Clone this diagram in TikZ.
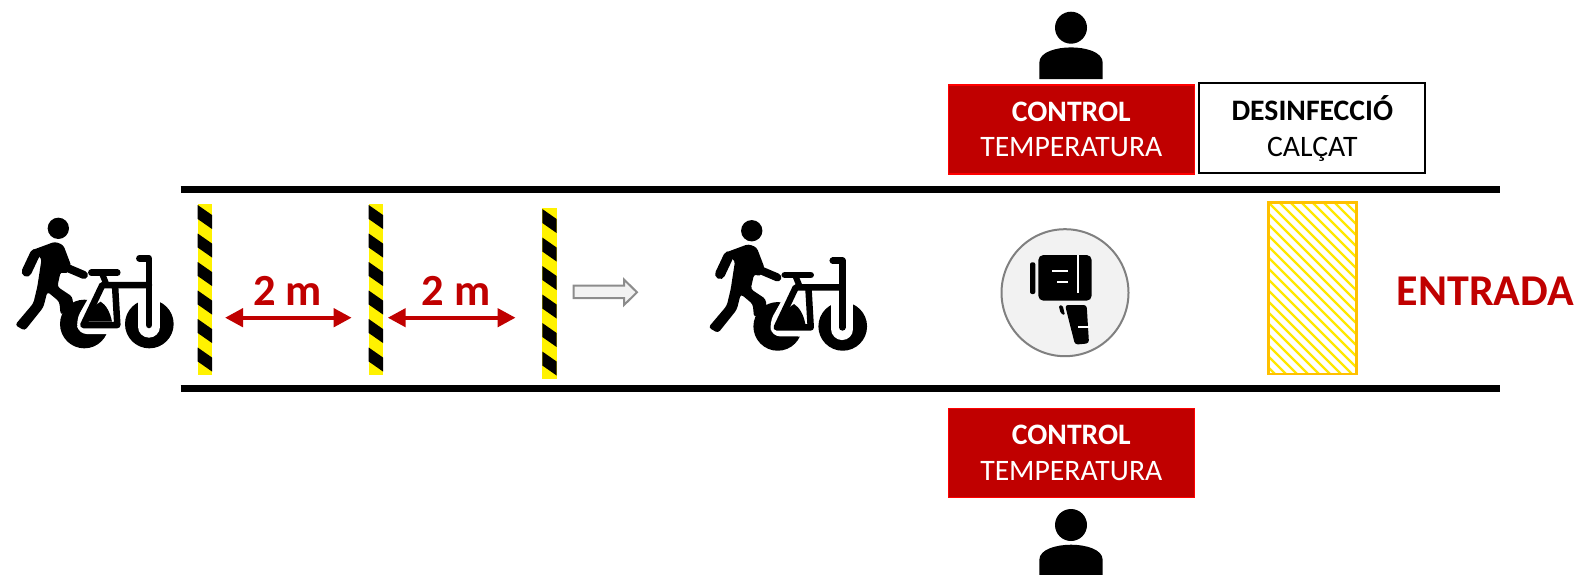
\documentclass[tikz,border=0pt]{standalone}
\usepackage{fontspec}
\usetikzlibrary{arrows.meta}
\setmainfont{Carlito}
\definecolor{darkred}{HTML}{C00000}
\definecolor{hatchy}{HTML}{FFE800}
\definecolor{hatcho}{HTML}{FFC000}
\tikzset{
  box/.style={minimum width=246pt,minimum height=89pt,inner sep=0pt,align=center,font=\fontsize{29.7}{35.7}\selectfont},
  redbox/.style={box,draw=red,line width=1.5pt,fill=darkred,text=white},
  whitebox/.style={box,draw=black,line width=2pt,fill=white,text=black,minimum width=226pt,minimum height=90pt},
  road/.style={line width=7pt,black},
  dist/.style={line width=4.3pt,darkred,{Triangle[length=18pt,width=18pt]}-{Triangle[length=18pt,width=18pt]}},
  dlabel/.style={text=darkred,font=\fontsize{44.5}{48}\bfseries\selectfont,anchor=base,inner sep=0pt},
  person/.pic={
    \fill (0,-20) circle (16);
    \fill (-31.7,31.3) -- (-31.7,15) .. controls (-31.7,4) and (-14,-0.3) .. (0,-0.3) .. controls (14,-0.3) and (31.7,4) .. (31.7,15) -- (31.7,31.3) -- cycle;
  },
  walker/.pic={
    \begin{scope}[scale=1/3]
      \fill (253,402) circle (73);
      \fill (448,402) circle (73);
      \fill[white,rounded corners=8pt] (300,262) -- (228,390) -- (236,432) -- (330,432) -- (368,440) -- (368,262) -- cycle;
      \draw[white,line width=22pt,line cap=round] (447,320) -- (447,410);
      \draw[line width=6.5pt,line cap=round,line join=round] (418,205) -- (447,205) -- (447,405);
      \draw[line width=6.5pt,line cap=round,line join=round] (447,285) -- (307,285) -- (250,405) -- (352,405) -- (345,285);
      \draw[line width=6pt] (305,248) -- (320,285);
      \draw[line width=6.5pt,line cap=round] (274,248) -- (352,248);
      \fill (258,395) .. controls (272,360) and (290,340) .. (302,335) .. controls (318,345) and (330,365) .. (336,395) -- cycle;
      \fill (175,115) circle (32);
      \draw[line width=10pt,line cap=round] (105,192) -- (80,245);
      \draw[line width=8pt,line cap=round] (205,235) -- (252,255);
      \fill[rounded corners=3pt] (92,182) -- (165,155) -- (190,165) -- (214,228) -- (200,252) -- (182,245) -- (172,290) -- (217,320) -- (220,350) -- (182,375) -- (178,335) -- (142,305) -- (130,352) -- (74,422) -- (45,405) -- (100,340) -- (112,290) -- (125,205) -- cycle;
    \end{scope}
  },
  barrier/.pic={
    \fill[yellow] (0,0) rectangle (14.3,171);
    \begin{scope}
      \clip (0,0) rectangle (14.3,171);
      \foreach \i in {0,...,6}{
        \fill ({0},{1+28.5*\i}) -- ({14.3},{11+28.5*\i}) -- ({14.3},{25+28.5*\i}) -- ({0},{15+28.5*\i}) -- cycle;
      }
    \end{scope}
  },
}
\begin{document}
\begin{tikzpicture}[x=1pt,y=-1pt]
\useasboundingbox (0,0) rectangle (1579,574);
% road
\coordinate (r1a) at (180.5,189.7); \coordinate (r1b) at (1500,189.7);
\coordinate (r2a) at (180.5,388.5); \coordinate (r2b) at (1500,388.5);
\draw[road] (r1a) -- (r1b);
\draw[road] (r2a) -- (r2b);
% walkers
\pic at (0,190) {walker};
\pic at (693.4,192.4) {walker};
% barriers
\pic at (197.7,204) {barrier};
\pic at (368.7,204) {barrier};
\pic at (542.3,208) {barrier};
% distances
\coordinate (d1a) at (225,317.7); \coordinate (d1b) at (351.7,317.7);
\coordinate (d2a) at (387.7,317.7); \coordinate (d2b) at (515.6,317.7);
\draw[dist] (d1a) -- (d1b);
\draw[dist] (d2a) -- (d2b);
\node[dlabel] (l1) at (287.5,305) {2 m};
\node[dlabel] (l2) at (456,305) {2 m};
% hollow arrow
\draw[fill=black!5,draw=black!45,line width=2pt] (573.5,285.5) -- (624,285.5) -- (624,279.5) -- (637,292.3) -- (624,305) -- (624,298) -- (573.5,298) -- cycle;
% thermometer
\node[circle,draw=black!50,fill=black!5,line width=2pt,minimum size=127pt,inner sep=0pt] (gun) at (1065,292.7) {};
\begin{scope}[shift={(690,200)},scale=1/3]
  \fill[rounded corners=5pt] (1045,165) rectangle (1205,302);
  \fill[rounded corners=2pt] (1020,187) rectangle (1036,282);
  \fill[white] (1085,209) rectangle (1135,215);
  \fill[white] (1100,244) rectangle (1135,250);
  \fill[white] (1162,165) rectangle (1168,278);
  \fill[rounded corners=3pt] (1125,315) -- (1190,315) -- (1197,430) -- (1155,434) -- cycle;
  \fill[white] (1165,378) rectangle (1200,384);
  \fill[rounded corners=1.5pt] (1106,316) -- (1118,316) -- (1125,346) -- (1112,340) -- cycle;
\end{scope}
% boxes
\pic at (1071,47.7) {person};
\node[redbox] (t1) at (1071.3,129.5) {\textbf{CONTROL}\\TEMPERATURA};
\node[whitebox] (t2) at (1312.3,128.3) {\textbf{DESINFECCIÓ}\\CALÇAT};
\node[redbox] (t3) at (1071.3,453) {\textbf{CONTROL}\\TEMPERATURA};
\pic at (1071,545) {person};
% hatched
\begin{scope}
  \clip (1268.3,202.3) rectangle (1356.7,374);
  \foreach \i in {-17,...,9}{
    \draw[hatchy,line width=2.4pt] ({1268.3+11*\i},202.3) -- ({1268.3+11*\i+172},374.3);
  }
\end{scope}
\draw[hatcho,line width=2.5pt] (1268.3,202.3) rectangle (1356.7,374);
\node[text=darkred,font=\fontsize{44}{48}\bfseries\selectfont,anchor=base,inner sep=0pt] (entrada) at (1485.3,305) {ENTRADA};
\end{tikzpicture}
\end{document}
